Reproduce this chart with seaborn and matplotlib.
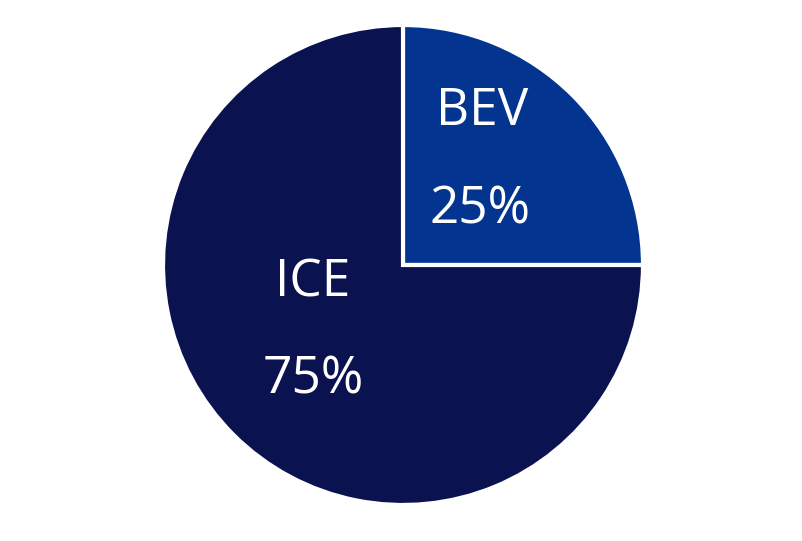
import matplotlib
matplotlib.use("Agg")
import matplotlib.pyplot as plt
import seaborn as sns

# data
categories = ["BEV", "ICE"]
shares = [25, 75]
colors = ["#03348f", "#0a1250"]

sns.set_theme(style="white")
plt.rcParams["font.family"] = ["Open Sans", "DejaVu Sans"]

fig = plt.figure(figsize=(8.02, 5.41), dpi=100)
# pie centre at about (403, 265) px, radius 240 px
ax = fig.add_axes([(403 - 240) / 802, (541 - 265 - 240) / 541, 480 / 802, 480 / 541])

ax.pie(shares, colors=colors, startangle=0, counterclock=True, radius=1.0,
       wedgeprops={"edgecolor": "white", "linewidth": 3})

# label positions inside each slice (data coords)
name_pos = [(0.33, 0.64), (-0.375, -0.075)]
pct_pos = [(0.32, 0.23), (-0.375, -0.48)]
for name, val, (nx, ny), (px, py) in zip(categories, shares, name_pos, pct_pos):
    ax.text(nx, ny, name, ha="center", va="center", color="white", fontsize=37)
    ax.text(px, py, f"{val}%", ha="center", va="center", color="white", fontsize=37)

ax.set_xlim(-1, 1)
ax.set_ylim(-1, 1)
ax.set_aspect("equal")
ax.axis("off")

fig.savefig("out.png", dpi=100, facecolor="white")
